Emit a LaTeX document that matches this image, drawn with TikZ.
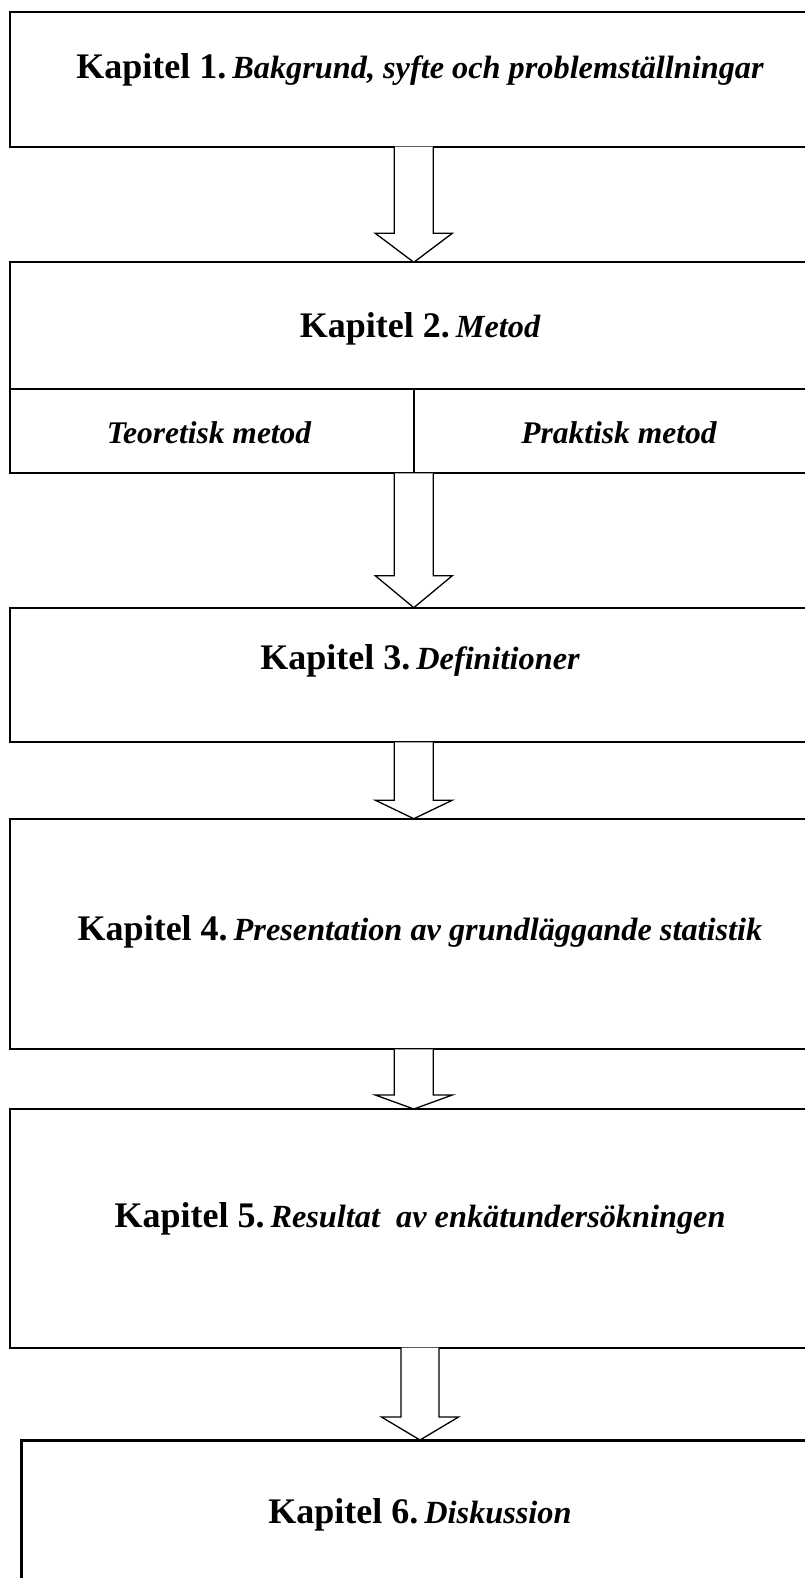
\documentclass[tikz,border=0pt]{standalone}
\usepackage{fontspec}
\setmainfont{Liberation Serif}
\usetikzlibrary{calc}
\tikzset{
  box/.style={draw, line width=1.8pt, rectangle, inner sep=0pt, outer sep=0pt},
  boxthick/.style={box, line width=3pt},
  blk/.style={draw, line width=1.3pt, line join=miter, fill=white},
  lbl/.style={anchor=base, inner sep=0pt, outer sep=0pt},
  cell/.style={anchor=base, inner sep=0pt, outer sep=0pt, font=\fontsize{31.5}{36}\selectfont\bfseries\itshape}
}
\newcommand{\kap}[2]{{\fontsize{36}{40}\selectfont\bfseries #1}\hspace{6pt}{\fontsize{32.3}{36}\selectfont\bfseries\itshape #2}}
% block arrow: #1 upper node, #2 lower node, #3 x-centre coordinate, #4 half shaft, #5 half head, #6 head length
\newcommand{\blkarrow}[6]{%
  \path (#1.south -| #3) coordinate (tt) (#2.north -| #3) coordinate (bb);
  \draw[blk] ($(tt)+(-#4,0)$) -- ($(bb)+(-#4,-#6)$) -- ($(bb)+(-#5,-#6)$) -- (bb)
     -- ($(bb)+(#5,-#6)$) -- ($(bb)+(#4,-#6)$) -- ($(tt)+(#4,0)$);}
\begin{document}
\begin{tikzpicture}[x=1pt,y=-1pt]
\useasboundingbox (0,0) rectangle (805,1578);
\clip (0,0) rectangle (805,1578);
\fill[white] (0,0) rectangle (805,1578);

\coordinate (ca) at (413.8,0);
\coordinate (cb) at (420,0);

\node[box, minimum width=820pt, minimum height=134.4pt] (b1) at (420,79.5) {};
\node[box, minimum width=820pt, minimum height=127pt] (b2) at (420,325.8) {};
\node[box, minimum width=404.3pt, minimum height=84pt] (b2l) at (212.15,431.3) {};
\node[box, minimum width=415.7pt, minimum height=84pt] (b2r) at (622.15,431.3) {};
\node[box, minimum width=820pt, minimum height=134.6pt] (b3) at (420,675) {};
\node[box, minimum width=820pt, minimum height=230.6pt] (b4) at (420,934) {};
\node[box, minimum width=820pt, minimum height=238.7pt] (b5) at (420,1228.35) {};
\node[boxthick, minimum width=818.3pt, minimum height=180pt] (b6) at (430.85,1530) {};

\node[lbl] (t1) at (420,79) {\kap{Kapitel 1.}{Bakgrund, syfte och problemställningar}};
\node[lbl] (t2) at (420,337) {\kap{Kapitel 2.}{Metod}};
\node[cell] (t2l) at (209,443) {Teoretisk metod};
\node[cell] (t2r) at (619,443) {Praktisk metod};
\node[lbl] (t3) at (420,669) {\kap{Kapitel 3.}{Definitioner}};
\node[lbl] (t4) at (420,940) {\kap{Kapitel 4.}{Presentation av grundläggande statistik}};
\node[lbl] (t5) at (420,1227) {\kap{Kapitel 5.}{Resultat\ \ av enkätundersökningen}};
\node[lbl] (t6) at (420,1523) {\kap{Kapitel 6.}{Diskussion}};

\blkarrow{b1}{b2}{ca}{19.5}{38.5}{29}
\blkarrow{b2l}{b3}{ca}{19.5}{38.5}{32}
\blkarrow{b3}{b4}{ca}{19.5}{38.5}{18.5}
\blkarrow{b4}{b5}{ca}{19.5}{38.5}{14}
\blkarrow{b5}{b6}{cb}{19}{38.5}{23}
\end{tikzpicture}
\end{document}
